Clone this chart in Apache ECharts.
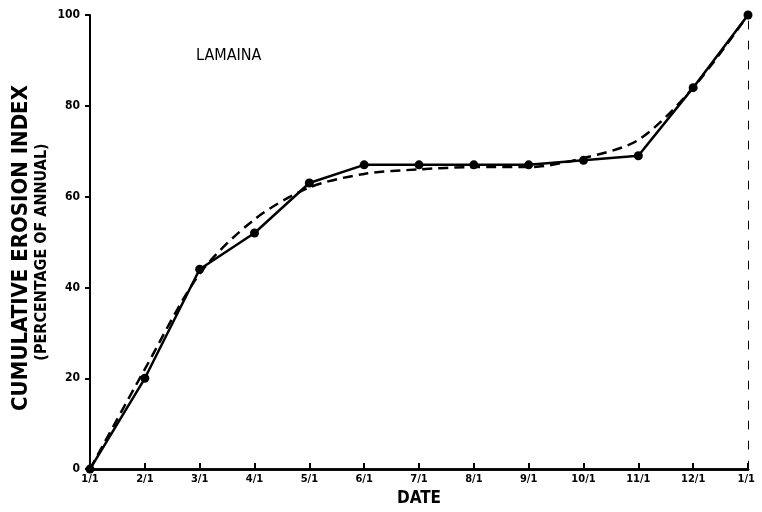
<!DOCTYPE html>
<html>
<head>
<meta charset="utf-8">
<script src="https://cdn.jsdelivr.net/npm/echarts@6/dist/echarts.min.js"></script>
<style>
html, body { margin: 0; padding: 0; background: #fff; }
#chart { width: 762px; height: 512px; }
</style>
</head>
<body>
<div id="chart"></div>
<script>
// 日期（每月1日）
var dates = ['1/1', '2/1', '3/1', '4/1', '5/1', '6/1', '7/1', '8/1', '9/1', '10/1', '11/1', '12/1', '1/1 '];
// 实测累计侵蚀指数（实线+圆点）
var measured = [0, 20, 44, 52, 63, 67, 67, 67, 67, 68, 69, 84, 100];
// 拟合曲线（虚线）
var fitted = [0, 22, 43, 55, 62, 65, 66, 66.5, 66.5, 68.5, 72.5, 84, 100];
var yTicks = [0, 20, 40, 60, 80, 100];

var font = "'DejaVu Sans Condensed', 'DejaVu Sans', sans-serif";
var chart = echarts.init(document.getElementById('chart'));

chart.setOption({
	animation: false,
	backgroundColor: '#fff',
	grid: {
		left: 90,
		right: 14,
		top: 15,
		bottom: 39
	},
	graphic: [
		{
			type: 'text',
			left: 196,
			top: 48,
			style: { text: 'LAMAINA', font: '16px ' + font, fill: '#000' }
		},
		{
			type: 'text',
			x: 21,
			y: 248,
			rotation: Math.PI / 2,
			style: {
				text: 'CUMULATIVE EROSION INDEX',
				font: 'bold 22px ' + font,
				fill: '#000',
				align: 'center',
				verticalAlign: 'middle'
			}
		},
		{
			type: 'text',
			x: 42,
			y: 252,
			rotation: Math.PI / 2,
			style: {
				text: '(PERCENTAGE OF ANNUAL)',
				font: 'bold 16px ' + font,
				fill: '#000',
				align: 'center',
				verticalAlign: 'middle'
			}
		}
	],
	xAxis: [
		{
			type: 'category',
			data: dates,
			boundaryGap: false,
			name: 'DATE',
			nameLocation: 'middle',
			nameGap: 18,
			nameTextStyle: { color: '#000', fontFamily: font, fontWeight: 'bold', fontSize: 17 },
			axisLine: { lineStyle: { color: '#000', width: 2.5 } },
			axisTick: { inside: true, length: 6, lineStyle: { color: '#000', width: 2 } },
			axisLabel: { color: '#000', fontFamily: font, fontWeight: 'bold', fontSize: 11, margin: 5, interval: 0 },
			splitLine: { show: false }
		},
		{
			type: 'category',
			data: dates,
			boundaryGap: false,
			position: 'top',
			axisLine: { lineStyle: { color: '#000', width: 2.5 } },
			axisTick: { show: false },
			axisLabel: { show: false },
			splitLine: { show: false }
		}
	],
	yAxis: [
		{
			type: 'value',
			min: 0,
			max: 100,
			interval: 20,
			axisLine: { show: true, lineStyle: { color: '#000', width: 2 } },
			axisTick: { show: true, length: 5, lineStyle: { color: '#000', width: 2 } },
			axisLabel: {
				color: '#000', fontFamily: font, fontWeight: 'bold', fontSize: 12, margin: 10,
				formatter: function (v) { return yTicks.indexOf(v) >= 0 ? String(v) : ''; }
			},
			splitLine: { show: false }
		},
		{
			type: 'value',
			min: 0,
			max: 100,
			interval: 20,
			position: 'right',
			axisLine: { show: true, lineStyle: { color: '#000', width: 1, type: [8, 12] } },
			axisTick: { show: false },
			axisLabel: { show: false },
			splitLine: { show: false }
		}
	],
	series: [
		{
			name: '拟合',
			type: 'line',
			data: fitted,
			smooth: 0.3,
			showSymbol: false,
			lineStyle: { color: '#000', width: 2.5, type: [10, 6] },
			z: 2
		},
		{
			name: '实测',
			type: 'line',
			data: measured,
			symbol: 'circle',
			symbolSize: 9,
			itemStyle: { color: '#000' },
			lineStyle: { color: '#000', width: 2.5 },
			z: 3
		}
	]
});
</script>
</body>
</html>
